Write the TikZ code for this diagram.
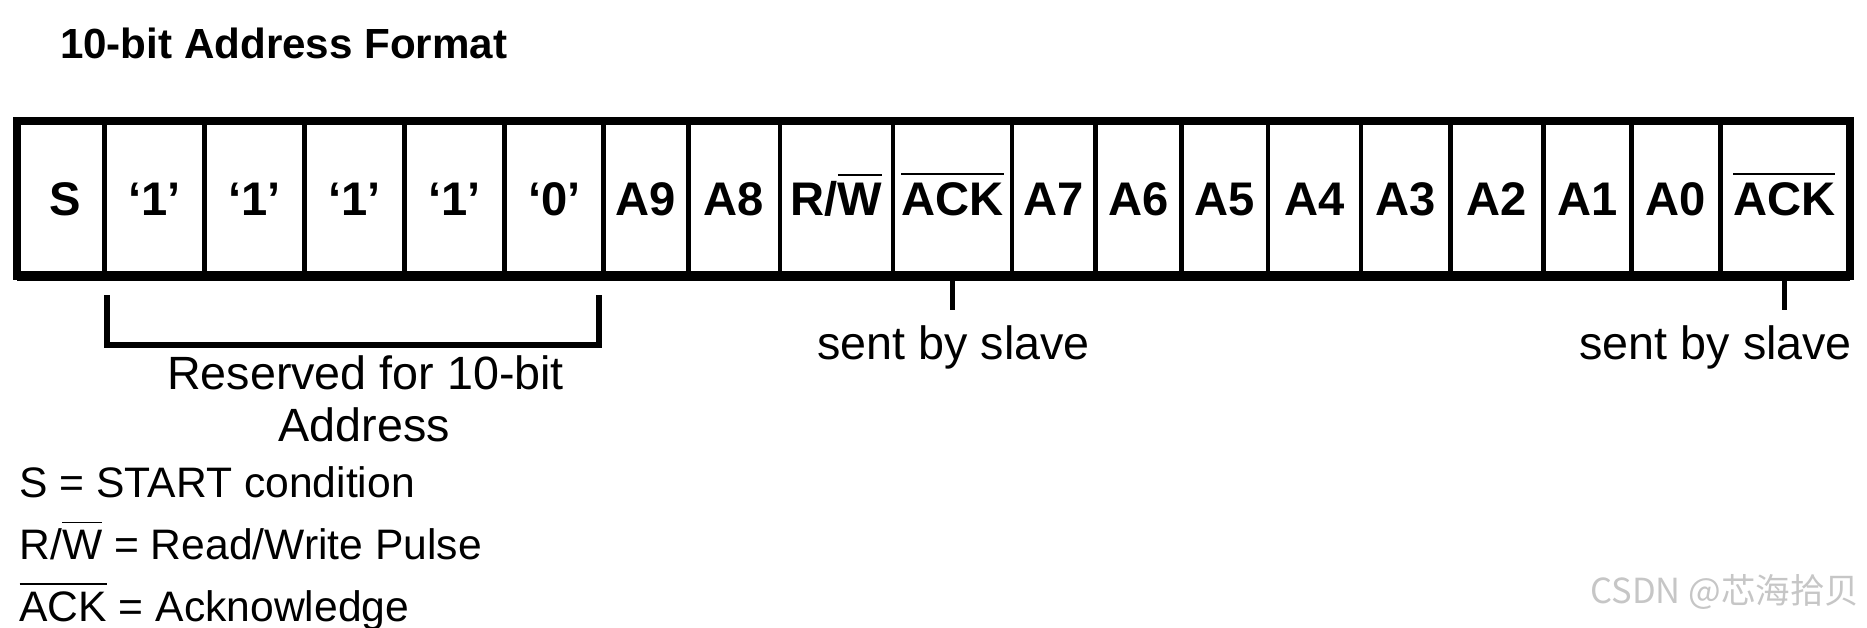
\documentclass[tikz,border=0pt]{standalone}
\usepackage{fontspec}
\setmainfont{Liberation Sans}
\newfontfamily\cjkfont{Noto Sans CJK SC}
\newcommand\ovlc[1]{\leavevmode\vbox{\hrule height 0.8pt\kern 3pt\hbox{#1}}}
\newcommand\ovll[1]{\leavevmode\vbox{\hrule height 0.7pt\kern 3pt\hbox{#1}}}
\begin{document}
\begin{tikzpicture}[x=0.5pt,y=-0.5pt,
  cell/.style={draw, line width=2pt, minimum height=63.5pt, inner sep=0pt,
    font=\fontsize{19.8}{22}\selectfont\bfseries, text height=14.2pt, text depth=0pt},
  lbl/.style={inner sep=0pt, font=\fontsize{17.9}{21}\selectfont},
  big/.style={inner sep=0pt, font=\fontsize{19.6}{23}\selectfont},
  tick/.style={line width=2.2pt},
  brk/.style={line width=2.6pt}]
\useasboundingbox (0,0) rectangle (1568,527);
\node[anchor=base west, inner sep=0pt, font=\fontsize{17.7}{20}\selectfont\bfseries] (title) at (50,49) {10-bit Address Format};
% cells
\node[cell, minimum width=36pt]   (c1)  at (52,166.5)    {\hspace*{3pt}S};
\node[cell, minimum width=42pt]   (c2)  at (130,166.5)   {‘1’};
\node[cell, minimum width=42pt]   (c3)  at (214,166.5)   {‘1’};
\node[cell, minimum width=42pt]   (c4)  at (298,166.5)   {‘1’};
\node[cell, minimum width=42pt]   (c5)  at (382,166.5)   {‘1’};
\node[cell, minimum width=41.5pt] (c6)  at (465.5,166.5) {‘0’};
\node[cell, minimum width=35.5pt] (c7)  at (542.5,166.5) {A9};
\node[cell, minimum width=38.5pt] (c8)  at (616.5,166.5) {A8};
\node[cell, minimum width=47.5pt] (c9)  at (702.5,166.5) {R/\ovlc{W}};
\node[cell, minimum width=50pt]   (c10) at (800,166.5)   {\ovlc{ACK}};
\node[cell, minimum width=35pt]   (c11) at (885,166.5)   {A7};
\node[cell, minimum width=36pt]   (c12) at (956,166.5)   {A6};
\node[cell, minimum width=36.5pt] (c13) at (1028.5,166.5){A5};
\node[cell, minimum width=39pt]   (c14) at (1104,166.5)  {A4};
\node[cell, minimum width=37.5pt] (c15) at (1180.5,166.5){A3};
\node[cell, minimum width=39pt]   (c16) at (1257,166.5)  {A2};
\node[cell, minimum width=37pt]   (c17) at (1333,166.5)  {A1};
\node[cell, minimum width=37.5pt] (c18) at (1407.5,166.5){A0};
\node[cell, minimum width=53.5pt] (c19) at (1498.5,166.5){\ovlc{ACK}};
\draw[line width=2.8pt] (c1.north west) rectangle (c19.south east);
\draw[line width=3.6pt] (c1.south west) -- (c19.south east);
% ticks and labels
\coordinate (t1) at (800,260);
\coordinate (t2) at (1498.5,260);
\draw[tick] (c10.south) -- (t1);
\draw[tick] (c19.south) -- (t2);
\node[big, anchor=base] (s1) at (801,302) {sent by slave};
\node[big, anchor=base] (s2) at (1441,302) {sent by slave};
% bracket
\coordinate (b1) at (90,248);
\coordinate (b2) at (90,290);
\coordinate (b3) at (503,290);
\coordinate (b4) at (503,248);
\draw[brk] (b1) -- (b2) -- (b3) -- (b4);
\node[big, anchor=base] (r1) at (307,327) {Reserved for 10-bit};
\node[big, anchor=base] (r2) at (306,371) {Address};
% legend
\node[lbl, anchor=base west] (l1) at (16,418) {S = START condition};
\node[lbl, anchor=base west] (l2) at (16,470) {R/\ovll{W} = Read/Write Pulse};
\node[lbl, anchor=base west] (l3) at (16,522) {\ovll{ACK} = Acknowledge};
% watermark
\node[anchor=base east, inner sep=0pt, text=gray!45, font=\cjkfont\fontsize{14.5}{17}\selectfont] (wm) at (1562,507) {CSDN @芯海拾贝};
\end{tikzpicture}
\end{document}
